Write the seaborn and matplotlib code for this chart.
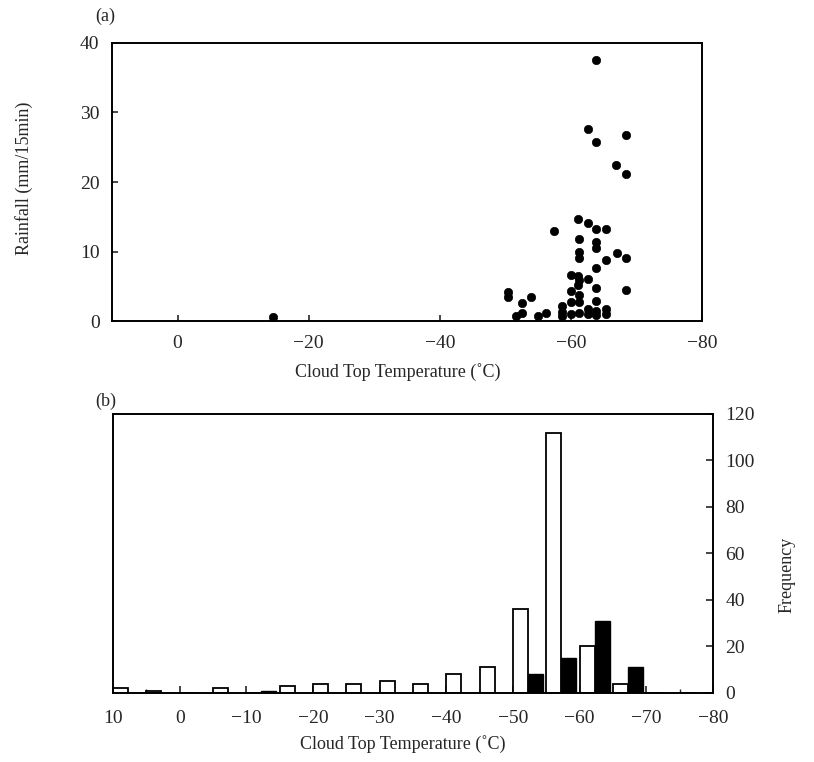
import matplotlib
matplotlib.use("Agg")
import matplotlib.pyplot as plt
import seaborn as sns
import numpy as np
import pandas as pd

# ---------------- data ----------------
# (a) scatter: cloud top temperature (deg C) vs rainfall (mm/15min)
scatter_temp = [-63.8, -62.6, -68.4, -63.9, -66.9, -68.4,
                -61.1, -62.6, -63.9, -65.3, -57.5, -61.3, -63.9, -63.9,
                -61.3, -61.3, -67.0, -68.4, -65.4, -63.9,
                -60.0, -61.1, -61.3, -62.6, -61.1, -63.9, -68.4, -60.0, -61.3,
                -50.4, -50.4, -53.9, -52.6, -63.9, -61.3, -60.0, -58.6,
                -52.6, -51.6, -56.2, -55.0, -58.6, -58.6, -60.0, -61.3,
                -62.6, -62.6, -63.9, -63.9, -65.3, -65.3, -14.5]
scatter_rain = [37.6, 27.6, 26.8, 25.7, 22.5, 21.2,
                14.7, 14.1, 13.2, 13.2, 12.9, 11.8, 11.4, 10.5,
                10.0, 9.0, 9.8, 9.1, 8.8, 7.6,
                6.6, 6.5, 5.9, 6.1, 5.2, 4.8, 4.4, 4.3, 3.7,
                4.2, 3.5, 3.4, 2.6, 2.9, 2.8, 2.8, 2.1,
                1.2, 0.7, 1.1, 0.7, 1.3, 0.7, 1.0, 1.1,
                1.8, 1.0, 1.5, 0.8, 1.8, 1.0, 0.6]

# (b) histogram: 5-degree bins (bin start temperature), two series
bin_start = [10, 5, 0, -5, -10, -15, -20, -25, -30, -35, -40, -45,
             -50, -55, -60, -65, -70, -75]
freq_all = [2, 1, 0, 2, 0, 3, 4, 4, 5, 4, 8, 11, 36, 112, 20, 4, 0, 0]
freq_rain = [0, 0, 0, 0, 1, 0, 0, 0, 0, 0, 0, 0, 8, 15, 31, 11, 0, 0]

top_xticks = [0, -20, -40, -60, -80]
top_yticks = [0, 10, 20, 30, 40]
bot_xticks = [10, 0, -10, -20, -30, -40, -50, -60, -70, -80]
bot_yticks = [0, 20, 40, 60, 80, 100, 120]

# ---------------- style ----------------
sns.set_style("ticks")
plt.rcParams["font.family"] = ["Liberation Serif", "DejaVu Serif"]
plt.rcParams["axes.linewidth"] = 1.4
plt.rcParams["axes.edgecolor"] = "black"
plt.rcParams["xtick.direction"] = "in"
plt.rcParams["ytick.direction"] = "in"

fig = plt.figure(figsize=(8.14, 7.62), dpi=100)
W, H = 814.0, 762.0
TICK_FS = 14
LAB_FS = 13

def minus(v):
    return f"\u2212{abs(v)}" if v < 0 else f"{v}"

# ---------------- (a) ----------------
ax1 = fig.add_axes([0.1376, 0.5787, 0.7248, 0.3649])
df_s = pd.DataFrame({"temp": scatter_temp, "rain": scatter_rain})
sns.scatterplot(data=df_s, x="temp", y="rain", ax=ax1, color="black",
                s=36, edgecolor="black", linewidth=0.5, legend=False)
ax1.set_xlim(10, -80)
ax1.set_ylim(0, 40)
ax1.set_xticks(top_xticks)
ax1.set_xticklabels([minus(v) for v in top_xticks])
ax1.set_yticks(top_yticks)
ax1.tick_params(axis="both", labelsize=TICK_FS, length=4, width=1.2)
ax1.tick_params(axis="x", pad=10)
ax1.tick_params(axis="y", pad=9)
ax1.set_xlabel("")
ax1.set_ylabel("")
for s in ax1.spines.values():
    s.set_visible(True)

fig.text(398 / W, 1 - 372 / H, "Cloud Top Temperature (\u02daC)",
         ha="center", va="center", fontsize=LAB_FS)
fig.text(24 / W, 1 - 178 / H, "Rainfall (mm/15min)", rotation=90,
         ha="center", va="center", fontsize=LAB_FS)
fig.text(105 / W, 1 - 16 / H, "(a)", ha="center", va="center", fontsize=LAB_FS)

# ---------------- (b) ----------------
ax2 = fig.add_axes([0.1388, 0.0906, 0.7371, 0.3661])
bw = 2.25
df_w = pd.DataFrame({"x": [b - bw / 2 for b in bin_start], "y": freq_all})
df_k = pd.DataFrame({"x": [b - 1.5 * bw for b in bin_start], "y": freq_rain})
sns.barplot(data=df_w, x="x", y="y", ax=ax2, native_scale=True, width=0.45,
            color="white", edgecolor="black", linewidth=1.3, saturation=1)
sns.barplot(data=df_k, x="x", y="y", ax=ax2, native_scale=True, width=0.45,
            color="black", edgecolor="black", linewidth=1.0, saturation=1)
ax2.set_xlim(10, -80)
ax2.set_ylim(0, 120)
ax2.set_xticks(bot_xticks)
ax2.set_xticklabels([minus(v) for v in bot_xticks])
ax2.set_xticks(np.arange(5, -80, -10), minor=True)
ax2.yaxis.tick_right()
ax2.yaxis.set_label_position("right")
ax2.set_yticks(bot_yticks)
ax2.tick_params(axis="both", which="major", labelsize=TICK_FS, length=5, width=1.2)
ax2.tick_params(axis="x", which="minor", length=3, width=1.0)
ax2.tick_params(axis="x", pad=12)
ax2.tick_params(axis="y", pad=9)
ax2.set_xlabel("")
ax2.set_ylabel("")
for s in ax2.spines.values():
    s.set_visible(True)

fig.text(403 / W, 1 - 744 / H, "Cloud Top Temperature (\u02daC)",
         ha="center", va="center", fontsize=LAB_FS)
fig.text(787 / W, 1 - 575 / H, "Frequency", rotation=90,
         ha="center", va="center", fontsize=LAB_FS)
fig.text(106 / W, 1 - 401 / H, "(b)", ha="center", va="center", fontsize=LAB_FS)

fig.savefig("out.png", dpi=100)
